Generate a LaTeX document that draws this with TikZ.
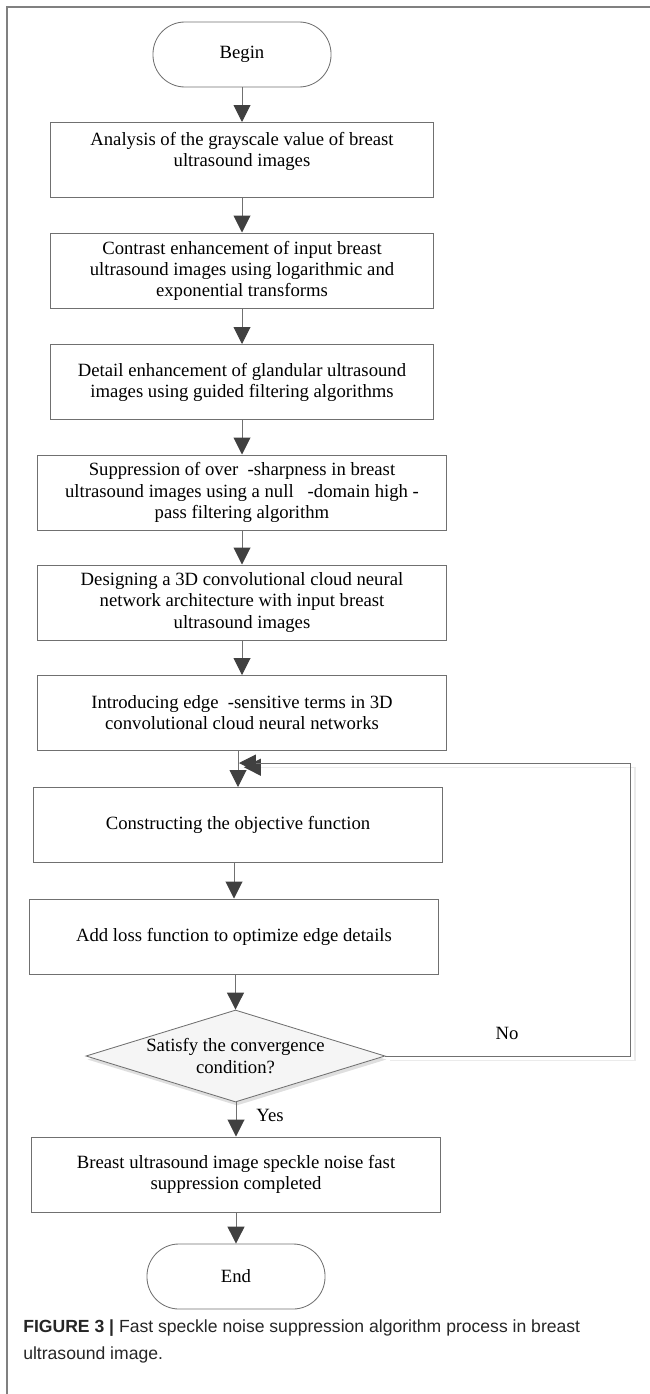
\documentclass[tikz,border=0pt]{standalone}
\usepackage{fontspec}
\setmainfont{Liberation Serif}
\newfontfamily\capfont{Liberation Sans}
\usetikzlibrary{arrows.meta,shapes.geometric,shadows}
\definecolor{linegray}{HTML}{707070}
\definecolor{tipgray}{HTML}{404040}
\definecolor{framegray}{HTML}{808080}

\begin{document}
\begin{tikzpicture}[x=0.025cm, y=-0.025cm,
    every node/.style={font=\fontsize{13.3}{15}\selectfont},
    stepbox/.style={draw=linegray, line width=0.7pt, minimum width=9.55cm, minimum height=1.875cm, align=center, inner sep=0pt},
    widebox/.style={stepbox, minimum width=10.2cm},
    terminal/.style={draw=linegray, line width=0.6pt, rounded corners=0.8cm, minimum width=4.45cm, minimum height=1.625cm},
    decision/.style={diamond, draw=linegray, line width=0.6pt, fill=black!4, minimum width=7.475cm, minimum height=2.3cm, inner sep=0pt,
        drop shadow={shadow xshift=1pt, shadow yshift=-2.5pt, opacity=0.25}},
    flow/.style={draw=linegray, line width=0.7pt, -{Triangle[length=12pt, width=12pt, color=tipgray]}},
    loopshadow/.style={preaction={draw=black!8, line width=1pt, transform canvas={shift={(3.5pt,-3pt)}}}}]
    \useasboundingbox (0,0) rectangle (650,1394);
    \draw[framegray, line width=0.9pt] (7,1394) -- (7,7) -- (650,7);
    % Steps
    \node[terminal] (begin) at (242,54.5) {Begin};
    \node[stepbox] (box1) at (242,160) {Analysis of the grayscale value of breast\\ultrasound images\\ \mbox{}};
    \node[stepbox] (box2) at (242,270.5) {Contrast enhancement of input breast\\ultrasound images using logarithmic and\\exponential transforms};
    \node[stepbox] (box3) at (242,382) {Detail enhancement of glandular ultrasound\\images using guided filtering algorithms};
    \node[widebox] (box4) at (242,492.5) {Suppression of over\ \ -sharpness in breast\\ultrasound images using a null\ \ \ -domain high\ -\\pass filtering algorithm};
    \node[widebox] (box5) at (242,602.5) {Designing a 3D convolutional cloud neural\\network architecture with input breast\\ultrasound images};
    \node[widebox] (box6) at (242,713) {Introducing edge\ \ -sensitive terms in 3D\\convolutional cloud neural networks};
    \node[widebox] (obj) at (238,825) {Constructing the objective function};
    \node[widebox] (loss) at (234,936.5) {Add loss function to optimize edge details};
    \node[decision] (cond) at (235.5,1056) {};
    \node[align=center] (condtext) at (cond) {Satisfy the convergence\\condition?};
    \node[widebox] (breast) at (236,1174.5) {Breast ultrasound image speckle noise fast\\suppression completed};
    \node[terminal] (end) at (236,1276.5) {End};
    % Arrows
    \foreach \a/\b in {begin/box1, box1/box2, box2/box3, box3/box4, box4/box5, box5/box6, box6/obj, obj/loss, loss/cond, cond/breast, breast/end}
        \draw[flow] (\b.north |- \a.south) -- (\b.north);
    % Loop back
    \coordinate (merge) at (239,763);
    \coordinate (corner) at (630,763);
    \draw[flow, loopshadow] (cond.east) -| (corner) -- (merge);
    \node (no) at (507,1033) {No};
    \node (yes) at (270,1115) {Yes};
    % Caption
    \node[anchor=base west, align=left, inner sep=0pt, text=black!85, font=\capfont\fontsize{12.5}{19.2}\selectfont] (caption) at (23,1359)
        {{\bfseries FIGURE 3 |} Fast speckle noise suppression algorithm process in breast\\ultrasound image.};
\end{tikzpicture}
\end{document}
